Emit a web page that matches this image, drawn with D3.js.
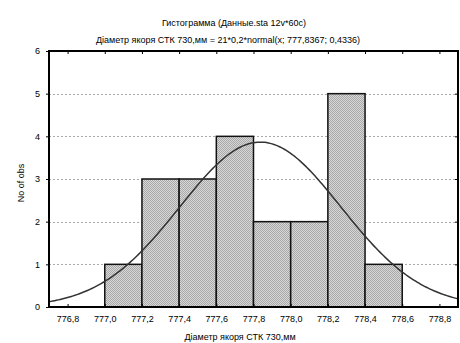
<!DOCTYPE html>
<html>
<head>
<meta charset="utf-8">
<script src="https://cdn.jsdelivr.net/npm/d3@7"></script>
<style>
  body { margin: 0; background: #fff; }
  text { font-family: "Liberation Sans", Arial, sans-serif; fill: #000; }
</style>
</head>
<body>
<svg id="chart" width="460" height="343"></svg>
<script>
// Histogram bins (lower edge) and counts
const binStarts = [777.0, 777.2, 777.4, 777.6, 777.8, 778.0, 778.2, 778.4];
const counts = [1, 3, 3, 4, 2, 2, 5, 1];
const binWidth = 0.2;
const xTicks = [776.8, 777.0, 777.2, 777.4, 777.6, 777.8, 778.0, 778.2, 778.4, 778.6, 778.8];
const yTicks = [0, 1, 2, 3, 4, 5, 6];
// fitted normal from the title: 21*0.2*normal(x; 777.8367; 0.4336)
const nObs = 21, fitMean = 777.8367, fitSd = 0.4336;

const margin = {top: 51, right: 2, bottom: 36, left: 49};
const width = 460 - margin.left - margin.right;
const height = 343 - margin.top - margin.bottom;

const svg = d3.select('#chart');

// pattern for the dithered grey fill
const defs = svg.append('defs');
const pat = defs.append('pattern')
    .attr('id', 'dots')
    .attr('width', 2).attr('height', 2)
    .attr('patternUnits', 'userSpaceOnUse');
pat.append('rect').attr('width', 2).attr('height', 2).attr('fill', '#d8d8d8')
    .attr('shape-rendering', 'crispEdges');
pat.append('rect').attr('width', 1).attr('height', 1).attr('fill', '#a8a8a8')
    .attr('shape-rendering', 'crispEdges');
pat.append('rect').attr('x', 1).attr('y', 1).attr('width', 1).attr('height', 1).attr('fill', '#a8a8a8')
    .attr('shape-rendering', 'crispEdges');
defs.append('clipPath').attr('id', 'clip')
    .append('rect').attr('width', width).attr('height', height);

const g = svg.append('g').attr('transform', `translate(${margin.left},${margin.top})`);

const x = d3.scaleLinear().domain([776.7, 778.9]).range([0, width]);
const y = d3.scaleLinear().domain([0, 6]).range([height, 0]);

// gridlines
g.selectAll('.grid')
    .data(yTicks.filter(d => d > 0 && d < 6))
    .enter().append('line')
    .attr('x1', 0).attr('x2', width)
    .attr('y1', d => Math.round(y(d)) + 0.5).attr('y2', d => Math.round(y(d)) + 0.5)
    .attr('stroke', '#aaa').attr('stroke-width', 1)
    .attr('stroke-dasharray', '2,2');

// bars
g.selectAll('.bar')
    .data(binStarts.map((s, i) => ({s, c: counts[i]})))
    .enter().append('rect')
    .attr('x', d => x(d.s))
    .attr('y', d => y(d.c))
    .attr('width', d => x(d.s + binWidth) - x(d.s))
    .attr('height', d => height - y(d.c))
    .attr('fill', 'url(#dots)')
    .attr('stroke', '#111')
    .attr('stroke-width', 1.5);

// normal curve
const curvePts = d3.range(776.7, 778.91, 0.01).map(v => [v,
    nObs * binWidth * Math.exp(-0.5 * ((v - fitMean) / fitSd) ** 2) / (fitSd * Math.sqrt(2 * Math.PI))]);
g.append('path')
    .datum(curvePts)
    .attr('clip-path', 'url(#clip)')
    .attr('fill', 'none')
    .attr('stroke', '#333')
    .attr('stroke-width', 1.5)
    .attr('d', d3.line().x(d => x(d[0])).y(d => y(d[1])));

// frame
g.append('rect')
    .attr('width', width).attr('height', height)
    .attr('fill', 'none').attr('stroke', '#000').attr('stroke-width', 2);

// axes with inward ticks
const tickStyle = sel => {
    sel.select('.domain').remove();
    sel.selectAll('text').style('font-size', '9px').style('font-family', '"Liberation Sans", Arial, sans-serif');
    sel.selectAll('line').attr('stroke', '#000');
};
const fmt = d => d3.format('.1f')(d).replace('.', ',');

g.append('g')
    .attr('transform', `translate(0,${height})`)
    .call(d3.axisBottom(x).tickValues(xTicks).tickFormat(fmt).tickSizeInner(-3).tickPadding(9))
    .call(tickStyle);
g.append('g')
    .call(d3.axisTop(x).tickValues(xTicks).tickFormat('').tickSizeInner(-3))
    .call(tickStyle);
g.append('g')
    .call(d3.axisLeft(y).tickValues(yTicks).tickFormat(d3.format('d')).tickSizeInner(3).tickPadding(6))
    .call(tickStyle);
g.append('g')
    .attr('transform', `translate(${width},0)`)
    .call(d3.axisRight(y).tickValues(yTicks).tickFormat('').tickSizeInner(-3))
    .call(tickStyle);

// titles
svg.append('text').attr('x', 234).attr('y', 26).attr('text-anchor', 'middle')
    .style('font-size', '9px').text('Гистограмма (Данные.sta 12v*60c)');
svg.append('text').attr('x', 228).attr('y', 43).attr('text-anchor', 'middle')
    .style('font-size', '9px').text('Діаметр якоря СТК 730,мм = 21*0,2*normal(x; 777,8367; 0,4336)');
svg.append('text').attr('x', 240).attr('y', 340).attr('text-anchor', 'middle')
    .style('font-size', '9px').text('Діаметр якоря СТК 730,мм');
svg.append('text')
    .attr('transform', 'rotate(-90)')
    .attr('x', -183).attr('y', 24)
    .attr('text-anchor', 'middle')
    .style('font-size', '9px').text('No of obs');
</script>
</body>
</html>
